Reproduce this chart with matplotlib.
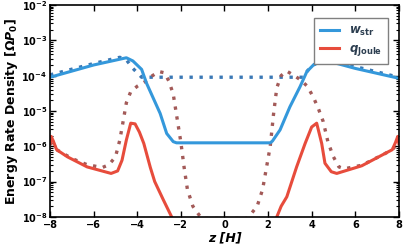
import matplotlib
matplotlib.use("Agg")
import matplotlib.pyplot as plt
import numpy as np

# w_str, solid
z_w = [-8, -6, -4.5, -4.2, -3.8, -3.57, -2.95, -2.65, -2.35, -2.2,
       2.1, 2.2, 2.55, 3.0, 3.47, 3.78, 4.08, 4.54, 6, 8]
w_str = [9e-5, 2e-4, 3.2e-4, 2.6e-4, 1.5e-4, 6e-5, 8.5e-6, 2.3e-6, 1.35e-6, 1.25e-6,
         1.25e-6, 1.4e-6, 2.9e-6, 1.3e-5, 4.9e-5, 1.3e-4, 2e-4, 2.8e-4, 1.6e-4, 8.4e-5]

# w_str, dotted
z_wd = [-8, -6, -4.8, -4.5, -4.2, -3.8, 3.6, 3.95, 4.5, 4.8, 6, 8]
w_dot = [1.05e-4, 2.2e-4, 3.3e-4, 2.8e-4, 1.6e-4, 9e-5, 9e-5, 1.8e-4, 2.8e-4, 3.3e-4, 1.8e-4, 9e-5]

# q_Joule, solid
z_q = [-8, -7.95, -7.85, -7.7, -7.2, -6.3, -5.2, -4.9, -4.7, -4.5, -4.3, -4.1, -3.9,
       -3.7, -3.4, -3.2, -2.8, -2.3,
       2.3, 2.6, 2.86, 3.31, 3.7, 4.0, 4.23, 4.46, 4.61, 4.9, 5.15, 6.3, 7.2, 7.7,
       7.85, 7.95, 8]
q_joule = [1.2e-6, 1.9e-6, 1.4e-6, 8e-7, 5e-7, 2.6e-7, 1.7e-7, 2e-7, 4e-7, 1.5e-6,
           4.5e-6, 4.3e-6, 2.5e-6, 1.2e-6, 2.5e-7, 1e-7, 3e-8, 7e-9,
           7e-9, 2e-8, 3.7e-8, 2.6e-7, 1.2e-6, 3.5e-6, 4.5e-6, 1.2e-6, 3.3e-7, 1.9e-7,
           1.7e-7, 2.8e-7, 5.5e-7, 8e-7, 1.3e-6, 1.9e-6, 1.2e-6]

# q_Joule, dotted
z_qd = [-8, -7.7, -7, -6.3, -5.6, -5.3, -5.0, -4.8, -4.65, -4.5, -4.3, -4.0, -3.6,
        -3.3, -3.0, -2.75, -2.55, -2.35, -2.15, -2.0, -1.85, -1.7, -1.45, -1.05,
        1.05, 1.5, 1.75, 1.95, 2.1, 2.25, 2.4, 2.6, 2.85, 3.2, 3.5, 3.8, 4.07, 4.3,
        4.53, 4.75, 5.0, 5.25, 5.5, 6.3, 7.2, 7.7, 8]
q_dot = [1.3e-6, 8e-7, 4.5e-7, 3e-7, 2.5e-7, 3e-7, 5e-7, 1.5e-6, 5e-6, 1.7e-5,
         3.5e-5, 5e-5, 7e-5, 1e-4, 1.3e-4, 1.2e-4, 7e-5, 3e-5, 5e-6, 1.3e-6,
         2.5e-7, 6e-8, 2e-8, 9e-9,
         9e-9, 2e-8, 6e-8, 3e-7, 1e-6, 8e-6, 4.5e-5, 1e-4, 1.35e-4, 1e-4, 7.5e-5,
         5e-5, 2.5e-5, 1.2e-5, 5e-6, 1.3e-6, 5e-7, 2.6e-7, 2.3e-7, 2.9e-7, 5.5e-7,
         8e-7, 1.3e-6]

plt.rcParams['font.family'] = 'DejaVu Sans'
plt.rcParams['font.weight'] = 'bold'
plt.rcParams['mathtext.fontset'] = 'dejavusans'

fig = plt.figure(figsize=(4.07, 2.49), dpi=100)
ax = fig.add_axes([0.123, 0.129, 0.857, 0.851])

ax.plot(z_wd, w_dot, ls=(0, (1, 2)), lw=2.4, color='#3a78b5')
ax.plot(z_qd, q_dot, ls=(0, (1, 2)), lw=2.4, color='#a35a58')
ax.plot(z_w, w_str, lw=2.2, color='#3498db', label=r'$\mathbfit{w}_{\mathbf{str}}$')
ax.plot(z_q, q_joule, lw=2.2, color='#e74c3c', label=r'$\mathbfit{q}_{\mathbf{Joule}}$')

ax.set_yscale('log')
ax.set_xlim(-8, 8)
ax.set_ylim(1e-8, 1e-2)
ax.set_xticks(np.arange(-8, 9, 2))
ax.set_xticklabels(['\u22128', '\u22126', '\u22124', '\u22122', '0', '2', '4', '6', '8'])

ax.tick_params(which='both', direction='in', top=True, right=True, labelsize=7, pad=2)
ax.tick_params(which='major', length=4, width=1)
ax.tick_params(which='minor', length=2, width=0.8)
for s in ax.spines.values():
    s.set_linewidth(1.2)

ax.set_xlabel('z [H]', fontsize=9, fontweight='bold', style='italic', labelpad=1)
ax.set_ylabel(r'Energy Rate Density [$\mathbf{\Omega} \mathbfit{P}_{\mathbf{0}}$]',
              fontsize=9, fontweight='bold', labelpad=1)

leg = ax.legend(loc='upper right', fontsize=8.5, fancybox=False, handlelength=1.6,
                borderpad=0.5, labelspacing=0.3, framealpha=1,
                bbox_to_anchor=(0.985, 0.965))
leg.get_frame().set_edgecolor('#808080')
for t in leg.get_texts():
    t.set_color('#2c3e50')

fig.savefig('out.png', dpi=100)
